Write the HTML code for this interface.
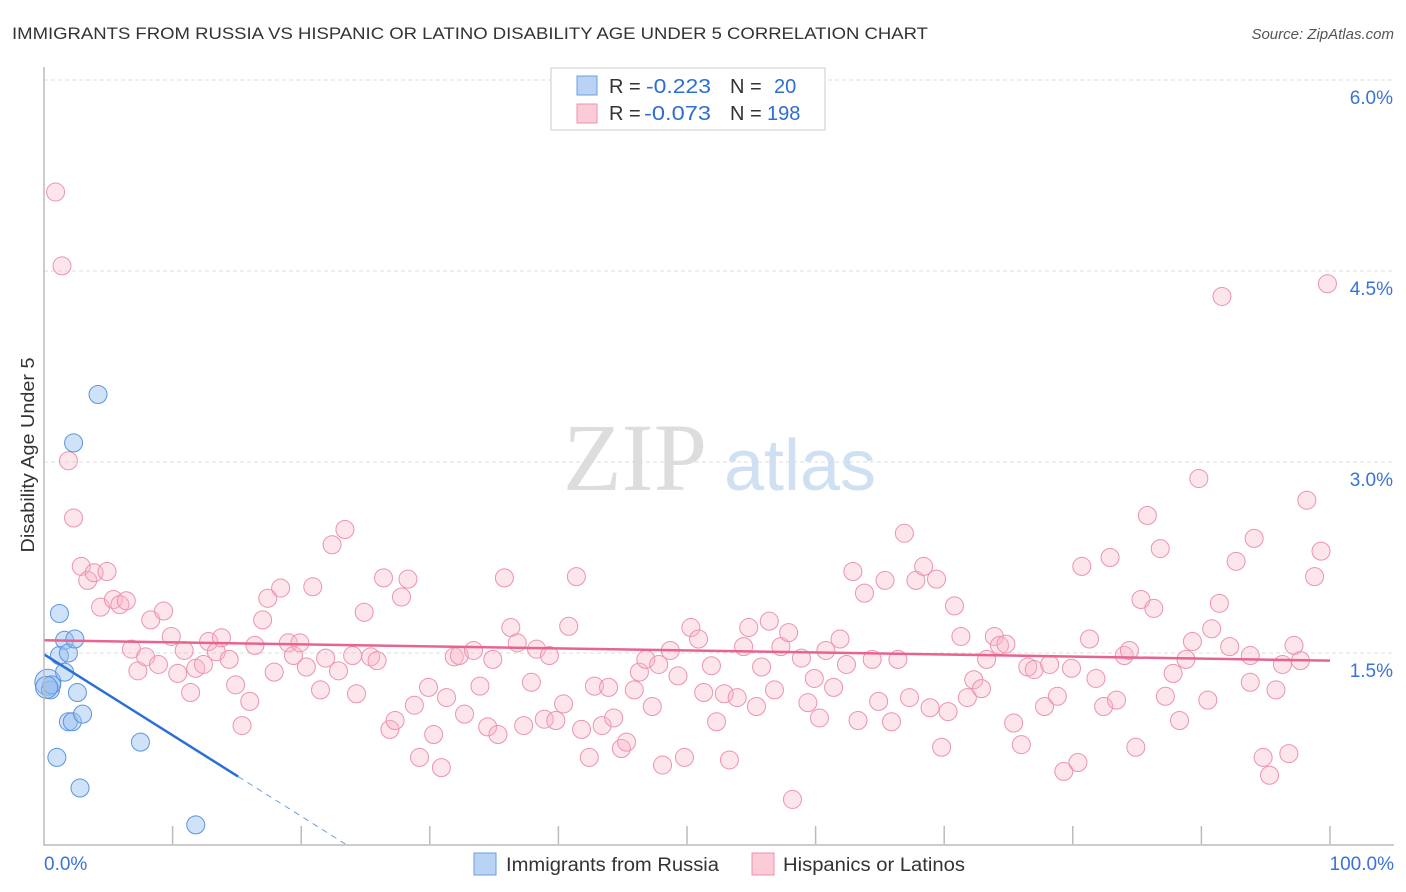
<!DOCTYPE html>
<html><head><meta charset="utf-8"><style>
body{margin:0;background:#fff;font-family:"Liberation Sans",sans-serif}
svg{display:block}
</style></head><body>
<svg id="chart" width="1406" height="892">
<text x="12" y="39" font-size="17" fill="#333" textLength="916" lengthAdjust="spacingAndGlyphs">IMMIGRANTS FROM RUSSIA VS HISPANIC OR LATINO DISABILITY AGE UNDER 5 CORRELATION CHART</text>
<text x="1394" y="39" font-size="15" fill="#555" font-style="italic" text-anchor="end">Source: ZipAtlas.com</text>
<text transform="translate(34,455) rotate(-90)" font-size="18" fill="#333" text-anchor="middle" textLength="195" lengthAdjust="spacingAndGlyphs">Disability Age Under 5</text>
<g id="grid"></g>
<g><text x="635" y="490" font-size="96" fill="#ddd" font-family="Liberation Serif" text-anchor="middle">ZIP</text><text x="800" y="490" font-size="72" fill="#cfe0f3" text-anchor="middle">atlas</text></g>
<g id="pts"></g>
<g id="lines"></g>
<g id="axes"></g>
<g>
<rect x="551" y="68" width="274" height="62" fill="#fff" stroke="#ccc"/>
<rect x="577" y="76" width="20" height="19" fill="#b9d3f5" stroke="#6a9fe0"/>
<rect x="577" y="104" width="20" height="19" fill="#fbcbd8" stroke="#ec93ae"/>
<text x="609" y="93" font-size="20" fill="#333">R = <tspan x="646" fill="#2d6fd1" textLength="65" lengthAdjust="spacingAndGlyphs">-0.223</tspan><tspan x="730">N = </tspan><tspan x="774" fill="#2d6fd1">20</tspan></text>
<text x="609" y="120" font-size="20" fill="#333">R = <tspan x="644" fill="#2d6fd1" textLength="67" lengthAdjust="spacingAndGlyphs">-0.073</tspan><tspan x="730">N = </tspan><tspan x="767" fill="#2d6fd1">198</tspan></text>
</g>
<g>
<rect x="474" y="853" width="22" height="22" fill="#b9d3f5" stroke="#6a9fe0"/>
<text x="506" y="871" font-size="19" fill="#333" textLength="213" lengthAdjust="spacingAndGlyphs">Immigrants from Russia</text>
<rect x="752" y="853" width="22" height="22" fill="#fbcbd8" stroke="#ec93ae"/>
<text x="783" y="871" font-size="19" fill="#333" textLength="182" lengthAdjust="spacingAndGlyphs">Hispanics or Latinos</text>
</g>
</svg>
<script>
const yTicks=[1.5,3.0,4.5,6.0];
const yTickLabels=["1.5%","3.0%","4.5%","6.0%"];
const xTickLabels=["0.0%","100.0%"];
const blueX=[0.3,0.5,0.6,1.0,1.2,1.2,1.6,1.6,1.9,2.4,1.9,2.2,2.6,3.0,2.8,4.2,2.3,7.5,11.8,0.2];
const blueY=[1.27,1.21,1.25,0.68,1.81,1.48,1.35,1.60,1.50,1.61,0.96,0.96,1.19,1.02,0.44,3.53,3.15,0.80,0.15,1.23];
const blueR=[13,9,9,9,9,9,9,9,9,9,9,9,9,9,9,9,9,9,9,11];
const pinkX=[0.9,1.4,1.9,2.3,2.9,3.4,3.9,4.9,4.4,5.4,5.9,6.4,6.8,7.3,7.9,8.3,8.9,9.3,9.9,10.4,10.9,11.4,11.8,12.4,12.8,13.4,13.8,14.4,14.9,15.4,16.0,16.4,17.0,17.4,17.9,18.4,19.0,19.4,19.9,20.4,20.9,21.5,21.9,22.4,22.9,23.4,24.0,24.3,24.9,25.4,25.9,26.4,26.9,27.3,27.8,28.3,28.8,29.2,29.9,30.3,30.9,31.3,31.9,32.3,32.7,33.4,33.9,34.5,34.9,35.3,35.8,36.3,36.8,37.3,37.9,38.3,38.9,39.3,39.8,40.4,40.8,41.4,41.8,42.4,42.8,43.4,43.9,44.3,44.9,45.3,45.9,46.3,46.8,47.3,47.8,48.1,48.7,49.3,49.8,50.3,50.9,51.3,51.9,52.3,52.9,53.3,53.9,54.4,54.8,55.4,55.8,56.4,56.8,57.3,57.9,58.2,58.9,59.4,59.9,60.3,60.8,61.4,61.9,62.4,62.9,63.3,63.8,64.4,64.9,65.4,65.9,66.4,66.9,67.3,67.8,68.4,68.9,69.4,69.8,70.3,70.8,71.3,71.8,72.3,72.9,73.3,73.9,74.3,74.8,75.4,76.0,76.5,77.0,77.8,78.2,78.8,79.3,79.9,80.4,80.7,81.3,81.8,82.4,82.9,83.4,84.0,84.4,84.9,85.3,85.8,86.3,86.8,87.2,87.8,88.3,88.8,89.3,89.8,90.5,90.8,91.4,91.6,92.2,92.7,93.8,94.1,93.8,94.8,95.3,95.8,96.3,96.8,97.2,97.7,98.2,98.8,99.3,99.8];
const pinkY=[5.12,4.54,3.01,2.56,2.18,2.07,2.13,2.14,1.86,1.92,1.88,1.91,1.53,1.36,1.47,1.76,1.41,1.83,1.63,1.34,1.52,1.19,1.38,1.41,1.59,1.51,1.62,1.45,1.25,0.93,1.12,1.56,1.76,1.93,1.35,2.01,1.58,1.48,1.58,1.39,2.02,1.21,1.46,2.35,1.36,2.47,1.48,1.18,1.82,1.47,1.44,2.09,0.90,0.97,1.94,2.08,1.09,0.68,1.23,0.86,0.60,1.15,1.47,1.48,1.02,1.52,1.24,0.92,1.45,0.86,2.09,1.70,1.58,0.93,1.27,1.53,0.98,1.48,0.97,1.10,1.71,2.10,0.90,0.68,1.24,0.93,1.23,0.99,0.75,0.80,1.21,1.35,1.45,1.08,1.41,0.62,1.52,1.32,0.68,1.70,1.61,1.19,1.40,0.96,1.18,0.66,1.15,1.55,1.70,1.08,1.39,1.75,1.21,1.55,1.66,0.35,1.46,1.11,1.30,0.99,1.52,1.23,1.61,1.41,2.14,0.97,1.97,1.45,1.12,2.07,0.96,1.45,2.44,1.15,2.07,2.18,1.07,2.08,0.76,1.04,1.87,1.63,1.15,1.29,1.22,1.45,1.63,1.56,1.57,0.95,0.78,1.39,1.37,1.08,1.41,1.16,0.57,1.38,0.64,2.18,1.61,1.30,1.08,2.25,1.13,1.48,1.52,0.76,1.92,2.58,1.85,2.32,1.16,1.34,0.97,1.45,1.59,2.87,1.13,1.69,1.89,4.30,1.55,2.22,1.48,2.40,1.27,0.68,0.54,1.21,1.41,0.71,1.56,1.44,2.70,2.10,2.30,4.40];
const pinkTrend=[1.60,1.44];
const blueTrend=[1.49,-0.0636];
const blueSolidEnd=15.1;
const L=44,R=1330,B=844,T=80;
const sx=v=>L+(R-L)*v/100;
const sy=v=>B-(B-T)*v/6;
const NS="http://www.w3.org/2000/svg";
function mk(tag,attrs,parent){const e=document.createElementNS(NS,tag);for(const k in attrs)e.setAttribute(k,attrs[k]);document.getElementById(parent).appendChild(e);return e;}
yTicks.forEach((t,i)=>{
 const g=mk('line',{x1:L,x2:1394,y1:sy(t),y2:sy(t),stroke:'#ddd','stroke-dasharray':'4,3'},'grid');
 
 
 const tx=mk('text',{x:1393,y:sy(t)+24,'font-size':19,fill:'#3a73d6','text-anchor':'end'},'axes');
 tx.textContent=yTickLabels[i];
 
 
});
const ax=mk('path',{d:`M${L} 67 V${B+1} H1394`,stroke:'#bbb',fill:'none','stroke-width':1.5},'axes');


for(let i=1;i<=10;i++){
 const t=mk('line',{x1:sx(i*10),x2:sx(i*10),y1:B-18,y2:B,stroke:'#bbb','stroke-width':1.5},'axes');
 
 
}
[[0,'start',44],[100,'end',1394]].forEach((a,i)=>{
 const tx=mk('text',{x:a[2],y:870,'font-size':19,fill:'#3a73d6','text-anchor':a[1]},'axes');
 tx.textContent=xTickLabels[i];
 
 
});
pinkX.forEach((x,i)=>{
 const c=mk('circle',{cx:sx(x),cy:sy(pinkY[i]),r:9,fill:'rgba(248,180,200,0.35)',stroke:'#ec93ae','stroke-width':1},'pts');
 
 
});
blueX.forEach((x,i)=>{
 const c=mk('circle',{cx:sx(x),cy:sy(blueY[i]),r:blueR[i],fill:'rgba(150,190,240,0.45)',stroke:'#5b95e0','stroke-width':1},'pts');
 
 
});
const pl=mk('line',{x1:sx(0),y1:sy(pinkTrend[0]),x2:sx(100),y2:sy(pinkTrend[1]),stroke:'#e8648e','stroke-width':2.5},'lines');


const zero=-blueTrend[0]/blueTrend[1];
const bl=mk('line',{x1:sx(0),y1:sy(blueTrend[0]),x2:sx(blueSolidEnd),y2:sy(blueTrend[0]+blueTrend[1]*blueSolidEnd),stroke:'#2a6fd6','stroke-width':2.5},'lines');


const bd=mk('line',{x1:sx(blueSolidEnd),y1:sy(blueTrend[0]+blueTrend[1]*blueSolidEnd),x2:sx(zero),y2:sy(0),stroke:'#6a9fe0','stroke-width':1,'stroke-dasharray':'6,5'},'lines');


</script>
</body></html>
